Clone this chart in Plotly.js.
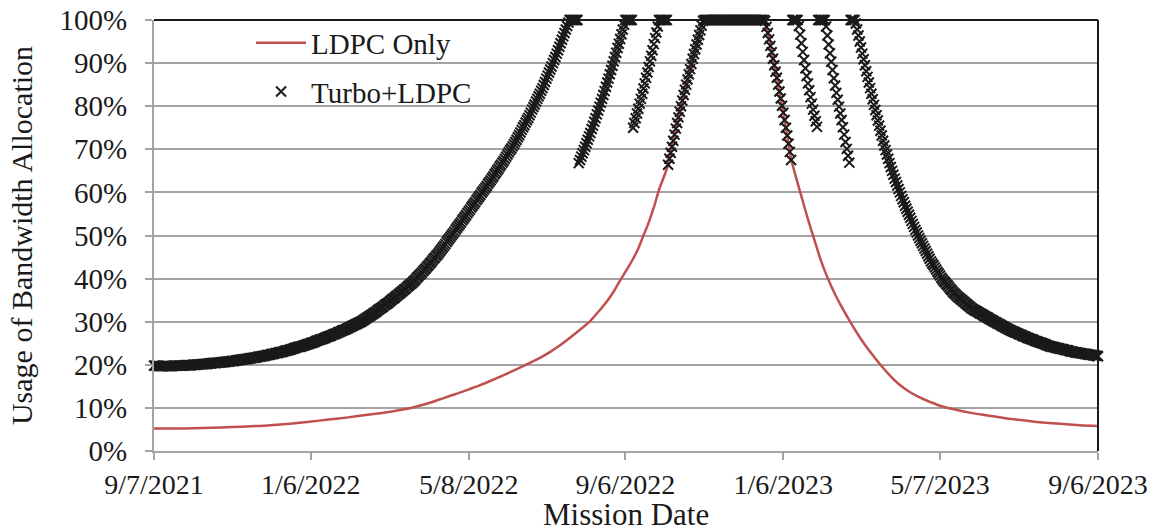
<!DOCTYPE html>
<html>
<head>
<meta charset="utf-8">
<script src="https://cdn.plot.ly/plotly-3.0.1.min.js"></script>
<style>html,body{margin:0;padding:0;background:#fff;}#chart{width:1154px;height:529px;}</style>
</head>
<body>
<div id="chart"></div>
<script>
// ---- data ----
const startDate = '2021-09-07';
const endDate = '2023-09-06';
const tickDates = ['2021-09-07','2022-01-06','2022-05-08','2022-09-06','2023-01-06','2023-05-07','2023-09-06'];
const tickLabels = ['9/7/2021','1/6/2022','5/8/2022','9/6/2022','1/6/2023','5/7/2023','9/6/2023'];
const yTickVals = [0,10,20,30,40,50,60,70,80,90,100];
const yTickLabels = ['0%','10%','20%','30%','40%','50%','60%','70%','80%','90%','100%'];
const xTitle = 'Mission Date';
const yTitle = 'Usage of Bandwidth Allocation';

// LDPC Only: day offset from startDate and usage (%)
const ldpcDays = [0,15,30,45,60,75,90,105,120,135,150,165,180,190,200,210,221,232,243,252,260,270,283,298,306,313,320,328,337,344,350,355,360,365,370,374,378,382,386,390,393,397,401,405,410,415,420,425,471,473,477,481,485,489,492,497,501,505,510,514,518,522,526,530,537,545,553,561,568,576,583,590,600,607,620,630,640,660,680,700,715,729];
const ldpcValues = [5.2,5.2,5.3,5.4,5.55,5.75,6.0,6.35,6.8,7.3,7.8,8.4,9.0,9.5,10.1,10.9,12.0,13.1,14.3,15.3,16.3,17.6,19.4,21.6,23.0,24.4,26.0,27.9,30.2,32.6,34.8,37.0,39.6,42.0,44.6,47.0,50.0,53.0,56.5,60.6,63.0,66.4,72.0,77.4,83.8,89.8,95.4,100,100,98.4,92.5,86.6,80.1,73.2,67.8,62.2,58.0,53.8,49.0,45.1,41.8,38.9,36.3,34.0,30.3,26.4,23.0,20.0,17.6,15.3,13.8,12.6,11.3,10.5,9.5,8.9,8.4,7.5,6.8,6.3,6.0,5.8];

// Turbo+LDPC: one value per day from startDate to endDate (%)
const turboValues = [
19.8,19.8,19.8,19.8,19.7,19.7,19.7,19.7,19.7,19.7,
19.7,19.7,19.7,19.7,19.7,19.8,19.8,19.8,19.8,19.8,
19.8,19.8,19.8,19.8,19.9,19.9,19.9,19.9,19.9,19.9,
20.0,20.0,20.0,20.0,20.1,20.1,20.1,20.1,20.2,20.2,
20.2,20.2,20.3,20.3,20.3,20.4,20.4,20.4,20.4,20.5,
20.5,20.5,20.6,20.6,20.6,20.7,20.7,20.7,20.8,20.8,
20.9,20.9,20.9,21.0,21.0,21.1,21.1,21.2,21.2,21.3,
21.3,21.3,21.4,21.4,21.5,21.5,21.6,21.6,21.7,21.7,
21.8,21.9,21.9,22.0,22.0,22.1,22.1,22.2,22.3,22.3,
22.4,22.5,22.5,22.6,22.7,22.7,22.8,22.9,22.9,23.0,
23.1,23.2,23.3,23.3,23.4,23.5,23.6,23.7,23.8,23.9,
24.0,24.1,24.2,24.2,24.3,24.4,24.5,24.6,24.7,24.8,
24.9,25.0,25.1,25.2,25.3,25.5,25.6,25.7,25.8,25.9,
26.0,26.1,26.2,26.4,26.5,26.6,26.7,26.8,27.0,27.1,
27.2,27.3,27.5,27.6,27.7,27.9,28.0,28.1,28.2,28.4,
28.5,28.7,28.8,29.0,29.1,29.3,29.4,29.6,29.7,29.9,
30.0,30.2,30.4,30.6,30.8,31.0,31.2,31.4,31.6,31.8,
32.0,32.2,32.4,32.7,32.9,33.1,33.3,33.5,33.8,34.0,
34.2,34.4,34.7,34.9,35.2,35.4,35.6,35.9,36.1,36.4,
36.6,36.9,37.1,37.4,37.6,37.9,38.2,38.4,38.7,38.9,
39.2,39.5,39.8,40.2,40.5,40.8,41.1,41.4,41.8,42.1,
42.4,42.8,43.1,43.5,43.8,44.2,44.6,44.9,45.3,45.6,
46.0,46.4,46.8,47.2,47.6,48.0,48.5,48.9,49.3,49.7,
50.1,50.5,50.9,51.4,51.8,52.2,52.6,53.0,53.5,53.9,
54.3,54.7,55.2,55.6,56.0,56.5,56.9,57.3,57.7,58.2,
58.6,59.0,59.4,59.9,60.3,60.7,61.1,61.5,62.0,62.4,
62.8,63.3,63.7,64.2,64.6,65.1,65.5,66.0,66.4,66.9,
67.3,67.8,68.3,68.8,69.3,69.8,70.2,70.7,71.2,71.7,
72.2,72.8,73.3,73.9,74.5,75.1,75.6,76.2,76.8,77.3,
77.9,78.5,79.2,79.8,80.4,81.1,81.7,82.3,82.9,83.6,
84.2,84.9,85.6,86.4,87.1,87.8,88.5,89.2,90.0,90.7,
91.4,92.2,93.0,93.8,94.6,95.4,96.2,97.0,97.8,98.6,
99.4,100,100,100,100,100,100,100,66.8,67.5,
68.3,69.1,69.8,70.6,71.4,72.2,73.0,73.8,74.7,75.5,
76.4,77.2,78.1,79.0,79.9,80.8,81.7,82.6,83.5,84.5,
85.5,86.4,87.4,88.4,89.4,90.4,91.4,92.4,93.5,94.5,
95.6,96.7,97.8,98.9,100,100,100,100,100,100,
75.0,76.1,77.2,78.3,79.4,80.6,81.7,82.9,84.1,85.3,
86.6,87.8,89.1,90.4,91.7,93.0,94.4,95.8,97.1,98.5,
100,100,100,100,100,100,100,66.4,67.8,69.2,
70.6,72.0,73.4,74.8,76.1,77.4,78.7,80.0,81.3,82.6,
83.8,85.0,86.2,87.4,88.6,89.8,91.0,92.1,93.2,94.3,
95.4,96.5,97.6,98.7,99.8,100,100,100,100,100,
100,100,100,100,100,100,100,100,100,100,
100,100,100,100,100,100,100,100,100,100,
100,100,100,100,100,100,100,100,100,100,
100,100,100,100,100,100,100,100,100,100,
100,100,99.8,98.4,97.0,95.5,94.0,92.5,91.0,89.5,
88.0,86.6,85.0,83.4,81.8,80.1,78.5,76.8,75.0,73.2,
71.3,69.4,67.5,100,100,100,100,100,98.6,96.6,
94.6,92.6,90.7,88.8,87.0,85.3,83.7,82.1,80.6,79.2,
77.8,76.5,75.2,100,100,100,100,100,100,98.5,
96.4,94.3,92.3,90.3,88.4,86.5,84.8,83.1,81.5,79.9,
78.3,76.8,75.1,73.4,71.7,70.1,68.5,66.9,100,100,
100,100,99.2,97.8,96.4,95.0,93.6,92.2,90.9,89.5,
88.1,86.8,85.5,84.2,82.9,81.6,80.3,79.1,77.9,76.7,
75.5,74.3,73.2,72.0,70.9,69.8,68.8,67.8,66.8,65.9,
65.0,64.1,63.2,62.4,61.6,60.8,60.0,59.2,58.4,57.7,
56.9,56.2,55.5,54.8,54.1,53.4,52.7,52.0,51.3,50.7,
50.0,49.4,48.8,48.2,47.6,47.0,46.4,45.8,45.2,44.6,
44.0,43.5,43.1,42.6,42.1,41.6,41.2,40.7,40.2,39.8,
39.4,39.1,38.7,38.4,38.0,37.6,37.3,36.9,36.6,36.3,
36.0,35.7,35.5,35.2,35.0,34.7,34.5,34.2,34.0,33.7,
33.5,33.2,33.0,32.8,32.6,32.5,32.3,32.1,31.9,31.8,
31.6,31.4,31.2,31.1,30.9,30.7,30.5,30.4,30.2,30.0,
29.9,29.7,29.5,29.4,29.2,29.0,28.9,28.7,28.5,28.4,
28.2,28.1,27.9,27.8,27.7,27.5,27.4,27.3,27.1,27.0,
26.9,26.7,26.6,26.5,26.3,26.2,26.1,26.0,25.9,25.8,
25.6,25.5,25.4,25.3,25.2,25.1,25.0,24.9,24.8,24.6,
24.5,24.4,24.3,24.2,24.2,24.1,24.0,23.9,23.9,23.8,
23.7,23.7,23.6,23.5,23.4,23.4,23.3,23.2,23.1,23.1,
23.0,22.9,22.9,22.8,22.8,22.7,22.7,22.6,22.6,22.5,
22.5,22.4,22.4,22.3,22.3,22.2,22.2,22.1,22.1,22.0
];

// ---- helpers ----
const DAY = 86400000;
const t0 = Date.parse(startDate + 'T00:00:00Z');
const dayToDate = d => new Date(t0 + d * DAY).toISOString().slice(0, 10);
const ldpcDates = ldpcDays.map(dayToDate);
const turboDates = turboValues.map((v, i) => dayToDate(i));

const FONT = 'Liberation Serif, Times New Roman, serif';
const TXT = '#1a1a1a';
const GRAY = '#a3a3a3';

const traces = [
  {
    type: 'scatter', mode: 'lines', name: 'LDPC Only',
    x: ldpcDates, y: ldpcValues,
    line: {color: '#c0504d', width: 2.5, shape: 'spline', smoothing: 0.8},
    legend: 'legend', cliponaxis: true, hoverinfo: 'skip'
  },
  {
    type: 'scatter', mode: 'markers', name: 'Turbo+LDPC',
    x: turboDates, y: turboValues,
    marker: {symbol: 'x-thin-open', size: 10, color: '#1a1a1a', line: {color: '#1a1a1a', width: 2}},
    legend: 'legend2', cliponaxis: false, hoverinfo: 'skip'
  }
];

const layout = {
  width: 1154, height: 529,
  margin: {l: 154, r: 56, t: 20, b: 78},
  paper_bgcolor: '#ffffff', plot_bgcolor: '#ffffff',
  font: {family: FONT, size: 29, color: TXT},
  showlegend: true,
  xaxis: {
    type: 'date', range: [startDate, endDate],
    tickmode: 'array', tickvals: tickDates, ticktext: tickLabels,
    ticks: 'outside', ticklen: 7, tickwidth: 2, tickcolor: GRAY,
    showline: true, linecolor: GRAY, linewidth: 2,
    showgrid: false, zeroline: false,
    tickfont: {family: FONT, size: 28, color: TXT},
    ticklabelstandoff: 0
  },
  yaxis: {
    range: [0, 100], tickmode: 'array', tickvals: yTickVals, ticktext: yTickLabels,
    ticks: 'outside', ticklen: 7, tickwidth: 2, tickcolor: GRAY,
    showline: true, linecolor: GRAY, linewidth: 2,
    showgrid: true, gridcolor: GRAY, gridwidth: 2, zeroline: false,
    tickfont: {family: FONT, size: 29, color: TXT},
    ticklabelstandoff: 12,
    title: {text: yTitle, font: {family: FONT, size: 30, color: TXT}, standoff: 18}
  },
  annotations: [
    {text: xTitle, xref: 'paper', yref: 'paper', x: 0.5, y: 0, xanchor: 'center', yanchor: 'top',
     yshift: -45, showarrow: false, borderpad: 0, font: {family: FONT, size: 31, color: TXT}}
  ],
  legend: {
    x: 0.1028, y: 1.006, xanchor: 'left', yanchor: 'top',
    bgcolor: 'rgba(0,0,0,0)', borderwidth: 0, itemwidth: 50,
    font: {family: FONT, size: 29, color: TXT}
  },
  legend2: {
    x: 0.1028, y: 0.893, xanchor: 'left', yanchor: 'top',
    bgcolor: 'rgba(0,0,0,0)', borderwidth: 0, itemwidth: 50,
    font: {family: FONT, size: 29, color: TXT}
  },
  shapes: [
    {type: 'line', xref: 'paper', yref: 'paper', x0: 0, x1: 1, y0: 1, y1: 1, line: {color: '#1a1a1a', width: 2}, layer: 'above'},
    {type: 'line', xref: 'paper', yref: 'paper', x0: 1, x1: 1, y0: 0, y1: 1, line: {color: '#1a1a1a', width: 2}, layer: 'above'}
  ]
};

Plotly.newPlot('chart', traces, layout, {displayModeBar: false, staticPlot: true});
</script>
</body>
</html>
